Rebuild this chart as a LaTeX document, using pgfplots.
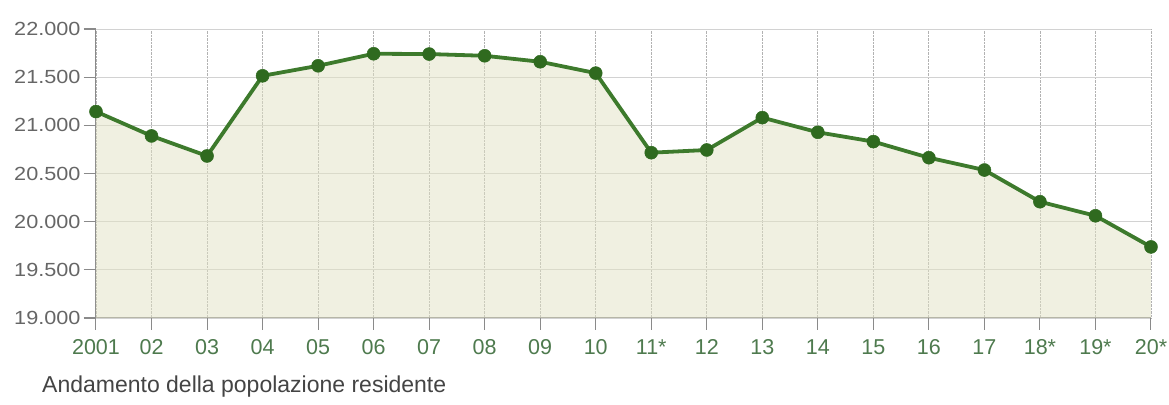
\documentclass[border=0pt]{standalone}
\usepackage{fontspec}
\setmainfont{Liberation Sans}
\newfontfamily\ylabfont[FakeStretch=1.14]{Liberation Sans}
\usepackage{pgfplots}
\pgfplotsset{compat=1.18}
\definecolor{linegreen}{HTML}{3D7A2C}
\definecolor{markgreen}{HTML}{2F6A1F}
\definecolor{fillc}{HTML}{E2E2C4}
\definecolor{xlab}{HTML}{4E7A4E}
\definecolor{ylab}{HTML}{666666}
\definecolor{titlec}{HTML}{444444}
\definecolor{axisgray}{HTML}{8A8A8A}
\begin{document}
\begin{tikzpicture}[x=1pt,y=1pt]
\useasboundingbox (-96,-86) rectangle (1073,318);
\begin{axis}[
  at={(0,0)}, anchor=south west,
  scale only axis, width=1055pt, height=289pt,
  xmin=0, xmax=19, ymin=19000, ymax=22000,
  clip=false,
  axis x line*=bottom, axis y line*=left,
  axis line style={-, draw=axisgray, line width=1pt},
  xtick={0,...,19},
  xticklabels={2001,02,03,04,05,06,07,08,09,10,11*,12,13,14,15,16,17,18*,19*,20*},
  ytick={19000,19500,...,22000},
  /pgf/number format/1000 sep={.},
  /pgf/number format/assume math mode=true,
  scaled y ticks=false,
  xtick align=outside, ytick align=outside,
  xtick pos=bottom, ytick pos=left,
  major tick length=12pt,
  every tick/.style={draw=axisgray, line width=1pt},
  major tick style={draw=axisgray, line width=1pt},
  xmajorgrids, ymajorgrids,
  x grid style={densely dotted, draw=gray!60, line width=0.8pt},
  y grid style={draw=gray!35, line width=0.8pt},
  yticklabel style={font=\ylabfont\fontsize{19}{19}\selectfont, text=ylab},
  xticklabel style={font=\fontsize{21.5}{21.5}\selectfont, text=xlab, yshift=-6pt},
]
\addplot[fill=fillc, fill opacity=0.5, draw=none] coordinates {
(0,19000) (0,21143) (1,20890) (2,20682) (3,21514) (4,21618) (5,21743) (6,21740) (7,21722) (8,21660) (9,21542)
(10,20716) (11,20744) (12,21080) (13,20928) (14,20831) (15,20664) (16,20536) (17,20207) (18,20061) (19,19738) (19,19000)
} -- cycle;
\addplot[linegreen, line width=3.8pt, mark=*, mark size=6.5pt, mark options={fill=markgreen, draw=markgreen, line width=0.5pt}] coordinates {
(0,21143) (1,20890) (2,20682) (3,21514) (4,21618) (5,21743) (6,21740) (7,21722) (8,21660) (9,21542)
(10,20716) (11,20744) (12,21080) (13,20928) (14,20831) (15,20664) (16,20536) (17,20207) (18,20061) (19,19738)
};
\end{axis}
\foreach \yy in {0,48.1667,96.3333,144.5,192.6667,240.8333,289}{
  \draw[axisgray, line width=1.2pt] (-12,\yy) -- (0,\yy);
}
\node[anchor=base west, font=\fontsize{23}{23}\selectfont, text=titlec, inner sep=0pt] at (-54,-74) {Andamento della popolazione residente};
\end{tikzpicture}
\end{document}
